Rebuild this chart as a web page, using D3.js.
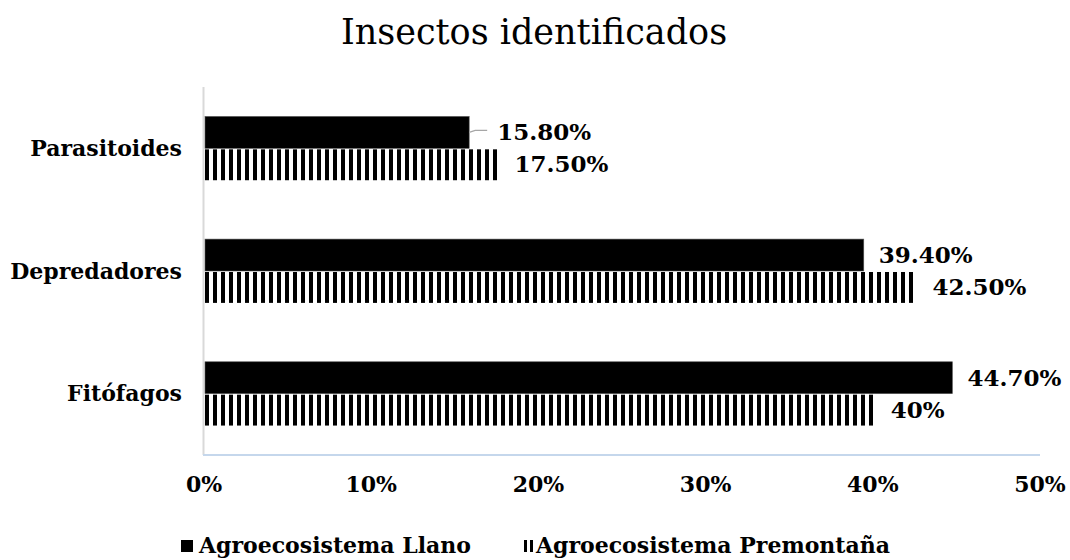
<!DOCTYPE html>
<html>
<head>
<meta charset="utf-8">
<script src="https://cdn.jsdelivr.net/npm/d3@7"></script>
<style>
  body { margin: 0; background: #fff; }
  svg { display: block; }
</style>
</head>
<body>
<div id="chart"></div>
<script>
const categories = ["Parasitoides", "Depredadores", "Fitófagos"];
const seriesNames = ["Agroecosistema Llano", "Agroecosistema Premontaña"];
const llano = [15.8, 39.4, 44.7];
const premontana = [17.5, 42.5, 40];
const llanoLabels = ["15.80%", "39.40%", "44.70%"];
const premontanaLabels = ["17.50%", "42.50%", "40%"];
const xTicks = [0, 10, 20, 30, 40, 50];

const width = 1070, height = 560;
const margin = { top: 87, right: 30, bottom: 105, left: 204 };
const boldFont = "'DejaVu Serif', serif";

const svg = d3.select("#chart").append("svg")
  .attr("width", width)
  .attr("height", height);

// stripe pattern for the second series
const defs = svg.append("defs");
const pat = defs.append("pattern")
  .attr("id", "stripes")
  .attr("patternUnits", "userSpaceOnUse")
  .attr("x", margin.left + 1)
  .attr("width", 8)
  .attr("height", 8);
pat.append("rect").attr("width", 4).attr("height", 8).attr("fill", "#000");

const x = d3.scaleLinear().domain([0, 50]).range([margin.left, 1040]);
const y = d3.scaleBand().domain(categories)
  .range([margin.top, height - margin.bottom])
  .paddingInner(0.48).paddingOuter(0.24);
const ySub = d3.scaleBand().domain([0, 1]).range([0, y.bandwidth()]);

// title
svg.append("text")
  .attr("x", 534).attr("y", 44)
  .attr("text-anchor", "middle")
  .attr("font-family", "'DejaVu Serif', serif")
  .attr("font-size", 35)
  .attr("fill", "#000")
  .text("Insectos identificados");

// axis lines
svg.append("line")
  .attr("x1", margin.left - 0.5).attr("x2", margin.left - 0.5)
  .attr("y1", margin.top).attr("y2", height - margin.bottom)
  .attr("stroke", "#d9d9d9").attr("stroke-width", 2);
svg.append("line")
  .attr("x1", margin.left - 1).attr("x2", x(50))
  .attr("y1", height - margin.bottom).attr("y2", height - margin.bottom)
  .attr("stroke", "#c5d7ec").attr("stroke-width", 2);

// x tick labels
svg.append("g").selectAll("text")
  .data(xTicks)
  .join("text")
  .attr("x", d => x(d))
  .attr("y", 492)
  .attr("text-anchor", "middle")
  .attr("font-family", boldFont)
  .attr("font-weight", "bold")
  .attr("font-size", 22)
  .text(d => d + "%");

// category labels
svg.append("g").selectAll("text")
  .data(categories)
  .join("text")
  .attr("x", 182)
  .attr("y", d => y(d) + y.bandwidth() / 2)
  .attr("dy", "0.35em")
  .attr("text-anchor", "end")
  .attr("font-family", boldFont)
  .attr("font-weight", "bold")
  .attr("font-size", 22)
  .text(d => d);

const rows = categories.map((c, i) => ({ c, a: llano[i], b: premontana[i], la: llanoLabels[i], lb: premontanaLabels[i] }));

// bars
svg.append("g").selectAll("rect")
  .data(rows)
  .join("rect")
  .attr("x", x(0) + 1)
  .attr("y", d => y(d.c) + ySub(0))
  .attr("width", d => x(d.a) - x(0))
  .attr("height", ySub.bandwidth())
  .attr("fill", "#000")
  .attr("stroke", "#555")
  .attr("stroke-width", 0.6);

svg.append("g").selectAll("rect")
  .data(rows)
  .join("rect")
  .attr("x", x(0) + 1)
  .attr("y", d => y(d.c) + ySub(1) + 1)
  .attr("width", d => x(d.b) - x(0))
  .attr("height", ySub.bandwidth() - 1)
  .attr("fill", "url(#stripes)");

// value labels
svg.append("g").selectAll("text")
  .data(rows)
  .join("text")
  .attr("x", (d, i) => x(d.a) + (i === 0 ? 29 : 16))
  .attr("y", d => y(d.c) + ySub(0) + ySub.bandwidth() / 2)
  .attr("dy", "0.35em")
  .attr("font-family", boldFont)
  .attr("font-weight", "bold")
  .attr("font-size", 23)
  .text(d => d.la);

// leader line for the shifted first label
svg.append("path")
  .datum(rows[0])
  .attr("d", d => {
    const yc = y(d.c) + ySub(0) + ySub.bandwidth() / 2;
    return `M${x(d.a) + 1},${yc} L${x(d.a) + 7},${yc - 2} L${x(d.a) + 19},${yc - 2}`;
  })
  .attr("fill", "none")
  .attr("stroke", "#a6a6a6")
  .attr("stroke-width", 1.2);

svg.append("g").selectAll("text")
  .data(rows)
  .join("text")
  .attr("x", d => x(d.b) + 18)
  .attr("y", d => y(d.c) + ySub(1) + ySub.bandwidth() / 2)
  .attr("dy", "0.35em")
  .attr("font-family", boldFont)
  .attr("font-weight", "bold")
  .attr("font-size", 23)
  .text(d => d.lb);

// legend
const leg = svg.append("g");
leg.append("rect").attr("x", 181).attr("y", 540).attr("width", 12).attr("height", 12).attr("fill", "#000");
leg.append("text").attr("x", 199).attr("y", 553)
  .attr("font-family", boldFont).attr("font-weight", "bold").attr("font-size", 22)
  .text(seriesNames[0]);
leg.append("rect").attr("x", 524).attr("y", 540).attr("width", 3).attr("height", 12).attr("fill", "#000");
leg.append("rect").attr("x", 530).attr("y", 540).attr("width", 3).attr("height", 12).attr("fill", "#000");
leg.append("text").attr("x", 536).attr("y", 553)
  .attr("font-family", boldFont).attr("font-weight", "bold").attr("font-size", 22)
  .text(seriesNames[1]);
</script>
</body>
</html>
